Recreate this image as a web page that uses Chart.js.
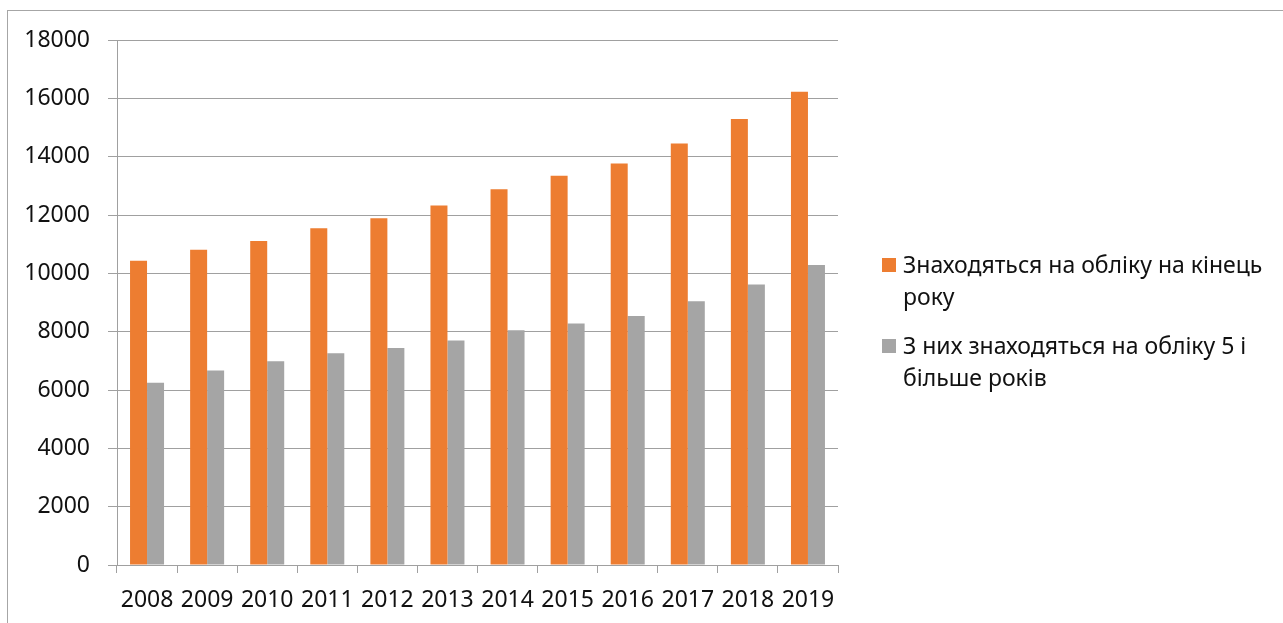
<!DOCTYPE html>
<html>
<head>
<meta charset="utf-8">
<script src="https://cdn.jsdelivr.net/npm/chart.js@4"></script>
<style>
    html, body { margin: 0; padding: 0; background: #fff; overflow: hidden; }
    #frame { position: absolute; left: 7px; top: 10px; width: 1400px; height: 800px; border: 1px solid #a6a6a6; }
    #chart { position: absolute; left: 0; top: 0; }
    #legend { position: absolute; left: 882px; top: 248px; font-family: "Noto Sans", sans-serif; font-size: 23px; line-height: 32px; color: #111; }
    .item { display: flex; align-items: flex-start; margin-bottom: 17px; }
    .box { width: 14px; height: 14px; margin-top: 10px; margin-right: 7px; flex: none; }
</style>
</head>
<body>
<div id="frame"></div>
<canvas id="chart" width="1283" height="623"></canvas>
<div id="legend"></div>
<script>
const years = ['2008', '2009', '2010', '2011', '2012', '2013', '2014', '2015', '2016', '2017', '2018', '2019'];
const onRecord = [10430, 10810, 11110, 11550, 11890, 12330, 12880, 13350, 13770, 14450, 15290, 16230];
const fiveYearsPlus = [6250, 6670, 6990, 7260, 7440, 7700, 8050, 8280, 8540, 9040, 9620, 10290];
const seriesNames = [
    ['Знаходяться на обліку на кінець', 'року'],
    ['З них знаходяться на обліку 5 і', 'більше років']
];
const colors = ['#ED7D31', '#A5A5A5'];

const font = { family: '"Noto Sans", sans-serif', size: 23 };
const gridColor = '#a0a0a0';

const chart = new Chart(document.getElementById('chart'), {
    type: 'bar',
    data: {
        labels: years,
        datasets: [
            { label: seriesNames[0].join(' '), data: onRecord, backgroundColor: colors[0] },
            { label: seriesNames[1].join(' '), data: fiveYearsPlus, backgroundColor: colors[1] }
        ]
    },
    options: {
        responsive: false,
        animation: false,
        categoryPercentage: 0.566,
        barPercentage: 1,
        layout: { padding: { left: 0, top: 40, right: 445, bottom: 0 } },
        plugins: {
            legend: { display: false },
            tooltip: { enabled: false }
        },
        scales: {
            x: {
                grid: { drawOnChartArea: false, drawTicks: true, tickLength: 8, color: gridColor },
                border: { color: gridColor },
                ticks: { font: font, color: '#111', padding: 14, maxRotation: 0 },
                afterFit: s => { s.height = 58; }
            },
            y: {
                min: 0,
                max: 18000,
                grid: { color: gridColor, tickLength: 9 },
                border: { color: gridColor },
                ticks: { stepSize: 2000, font: font, color: '#111', padding: 18, callback: v => String(v) },
                afterFit: s => { s.width = 117; }
            }
        }
    }
});

// legend drawn as html so the labels can wrap like in the original
const legend = document.getElementById('legend');
seriesNames.forEach((lines, i) => {
    const item = document.createElement('div');
    item.className = 'item';
    item.innerHTML = '<span class="box" style="background:' + colors[i] + '"></span><span>' + lines.join('<br>') + '</span>';
    legend.appendChild(item);
});
</script>
</body>
</html>
